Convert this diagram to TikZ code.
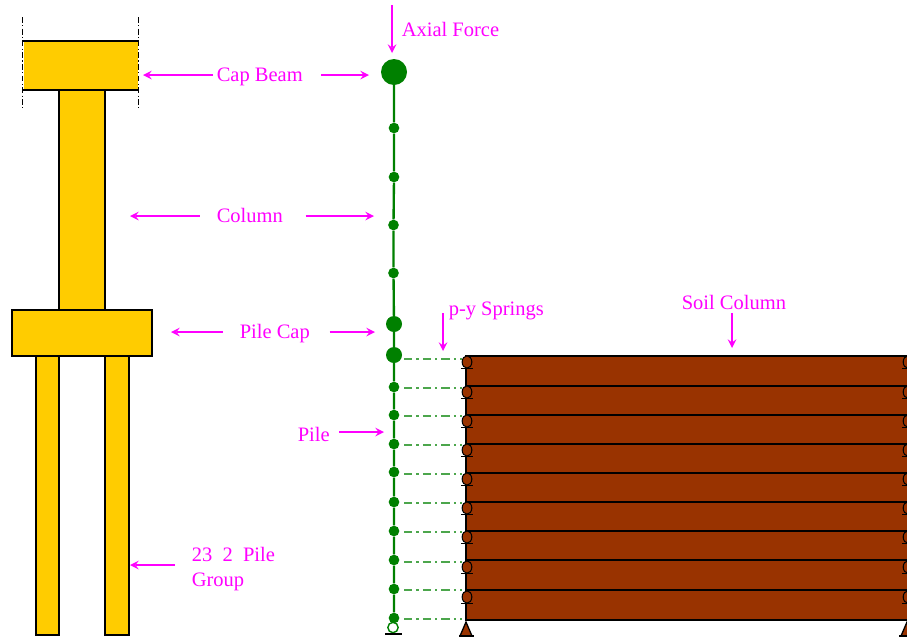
\documentclass[tikz,border=0pt]{standalone}
\usepackage{fontspec}
\setmainfont{Liberation Serif}
\usetikzlibrary{arrows,positioning,shapes,calc}
\definecolor{memberyellow}{HTML}{FFCC00}
\definecolor{soilbrown}{HTML}{993300}
\definecolor{pilegreen}{HTML}{008000}
\definecolor{labelpink}{HTML}{FF00FF}

\tikzset{
  member/.style={draw=black, line width=1.1pt, fill=memberyellow},
  guide/.style={black, line width=0.8pt, dash pattern=on 5pt off 2pt on 1pt off 2pt},
  layer/.style={draw=black, line width=0.9pt, fill=soilbrown},
  pinkarrow/.style={->, >=stealth, line width=2.2pt, labelpink},
  lab/.style={anchor=west, inner sep=3pt, text=labelpink, font=\fontsize{17.5}{21}\selectfont},
  bignode/.style={circle, fill=pilegreen, inner sep=0pt, minimum size=0.78cm},
  midnode/.style={circle, fill=pilegreen, inner sep=0pt, minimum size=0.48cm},
  smallnode/.style={circle, fill=pilegreen, inner sep=0pt, minimum size=0.32cm},
  roller/.style={ellipse, draw=black, line width=0.9pt, fill=soilbrown, inner sep=0pt, minimum width=0.29cm, minimum height=0.37cm},
  spring/.style={pilegreen!70, line width=0.9pt, dash pattern=on 7pt off 3.5pt on 2pt off 3.5pt},
  pin/.style={draw=black, line width=1.1pt, fill=soilbrown}
}

\begin{document}
\begin{tikzpicture}[x=0.03cm, y=-0.03cm]
  \useasboundingbox (0,0) rectangle (907,639);
  \clip (0,0) rectangle (907,639);

  % Bent elevation
  \draw[member] (59,90) rectangle (105,310);
  \draw[member] (36,356) rectangle (59,635);
  \draw[member] (105,356) rectangle (129,635);
  \draw[member] (12,310) rectangle (152,356);
  \fill[memberyellow] (24,41) rectangle (138,90);
  \draw[black, line width=1.1pt] (22,41) -- (138,41);
  \draw[black, line width=1.1pt] (22,90) -- (138,90);
  \draw[guide] (22,17) -- (22,108);
  \draw[guide] (138,17) -- (138,108);

  % Soil column
  \foreach \ytop/\ybot in {356/386,386/415,415/444,444/473,473/502,502/531,531/560,560/590,590/620} {
    \draw[layer] (466,\ytop) rectangle (920,\ybot);
  }
  \foreach \i/\y in {1/362,2/392,3/421,4/450,5/479,6/508,7/537,8/567,9/597} {
    \node[roller] (sl\i) at (467,\y) {};
    \node[roller] (sr\i) at (908,\y) {};
    \draw[black, line width=0.8pt] ([xshift=-0.17cm]sl\i.south) -- ([xshift=0.17cm]sl\i.south);
    \draw[black, line width=0.8pt] ([xshift=-0.17cm]sr\i.south) -- ([xshift=0.17cm]sr\i.south);
  }
  \draw[pin] (466,622) -- (472,636) -- (460,636) -- cycle;
  \draw[pin] (907,622) -- (913,636) -- (901,636) -- cycle;
  \draw[black, line width=1.1pt] (459,636) -- (474,636);
  \draw[black, line width=1.1pt] (899,636) -- (907,636);

  % Pile nodes
  \node[bignode] (n0) at (394,72) {};
  \node[smallnode] (n1) at (394,128) {};
  \node[smallnode] (n2) at (394,177) {};
  \node[smallnode] (n3) at (393.5,225) {};
  \node[smallnode] (n4) at (393.5,273) {};
  \node[midnode] (n5) at (394,324) {};
  \node[midnode] (p1) at (394,355) {};
  \foreach \i/\y in {2/387,3/415,4/444,5/472,6/502,7/531,8/560,9/589,10/618} {
    \node[smallnode] (p\i) at (394,\y) {};
  }
  \draw[pilegreen, line width=2pt] (n0) -- (n1) -- (n2) -- (n3) -- (n4) -- (n5) -- (p1) -- (p2) -- (p3) -- (p4) -- (p5) -- (p6) -- (p7) -- (p8) -- (p9) -- (p10);
  \node[circle, draw=pilegreen, fill=white, line width=1.2pt, inner sep=0pt, minimum size=0.31cm] (base) at (393,627.5) {};
  \draw[black, line width=1.1pt] (385,634) -- (402,634);

  % p-y springs
  \foreach \i/\y in {1/359,2/388,3/416,4/445,5/474,6/503,7/532,8/562,9/590,10/619} {
    \coordinate (e\i) at (462,\y);
    \draw[spring] (p\i |- e\i) ++(10,0) -- (e\i);
  }

  % Labels
  \node[lab] (axial) at (398,29) {Axial Force};
  \node[lab] (capbeam) at (213,77) {Cap Beam};
  \node[lab] (column) at (213,215) {Column};
  \node[lab] (pilecap) at (236,334) {Pile Cap};
  \node[lab] (pile) at (294,434) {Pile};
  \node[lab] (springs) at (445,311) {p-y Springs};
  \node[lab] (soil) at (678,302) {Soil Column};
  \node[lab, align=left] (group) at (188,569) {23\ \ 2\ \ Pile\\Group};

  % Arrows
  \coordinate (axialtop) at (392,5);
  \coordinate (axialtip) at (392,53);
  \coordinate (beamleft) at (143,75);
  \coordinate (beamright) at (369,75);
  \coordinate (colleft) at (130,216);
  \coordinate (colright) at (374,216);
  \coordinate (capleft) at (171,332);
  \coordinate (capright) at (375,332);
  \coordinate (piletip) at (384,432);
  \coordinate (springtop) at (443,313);
  \coordinate (springtip) at (443,351);
  \coordinate (soiltip) at (732,348);
  \coordinate (grouptip) at (130,565);

  \draw[pinkarrow] (axialtop) -- (axialtip);
  \draw[pinkarrow] (capbeam.west |- beamleft) -- (beamleft);
  \draw[pinkarrow, shorten <=0.45cm] (capbeam.east |- beamright) -- (beamright);
  \draw[pinkarrow, shorten <=0.4cm] (column.west |- colleft) -- (colleft);
  \draw[pinkarrow, shorten <=0.57cm] (column.east |- colright) -- (colright);
  \draw[pinkarrow, shorten <=0.4cm] (pilecap.west |- capleft) -- (capleft);
  \draw[pinkarrow, shorten <=0.48cm] (pilecap.east |- capright) -- (capright);
  \draw[pinkarrow, shorten <=0.18cm] (pile.east |- piletip) -- (piletip);
  \draw[pinkarrow] (springtop) -- (springtip);
  \draw[pinkarrow] (soil.south -| soiltip) -- (soiltip);
  \draw[pinkarrow, shorten <=0.4cm] (group.west |- grouptip) -- (grouptip);
\end{tikzpicture}
\end{document}
